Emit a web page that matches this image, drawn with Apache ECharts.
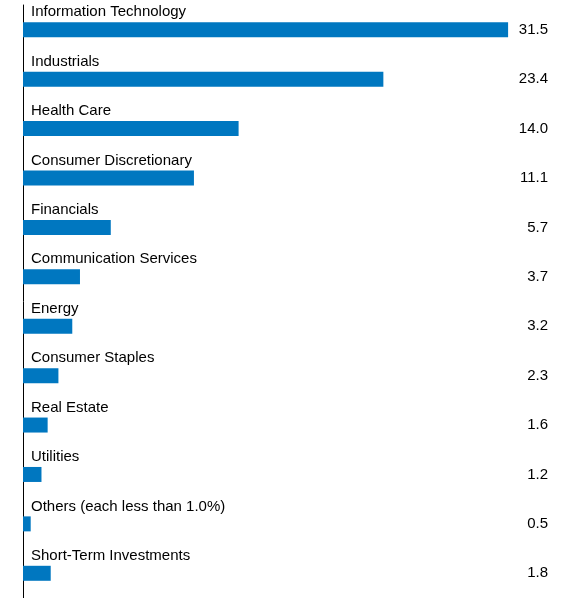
<!DOCTYPE html>
<html><head><meta charset="utf-8">
<script src="https://cdn.jsdelivr.net/npm/echarts@6/dist/echarts.min.js"></script>
<style>html,body{margin:0;padding:0;background:#fff}#c{width:573px;height:598px}</style>
</head><body><div id="c"></div>
<script>
const categories = ["Information Technology","Industrials","Health Care","Consumer Discretionary","Financials","Communication Services","Energy","Consumer Staples","Real Estate","Utilities","Others (each less than 1.0%)","Short-Term Investments"];
const values = [31.5,23.4,14.0,11.1,5.7,3.7,3.2,2.3,1.6,1.2,0.5,1.8];
const valueLabels = values.map(v => v.toFixed(1));
const chart = echarts.init(document.getElementById('c'));
const font = {fontFamily:'Liberation Sans, Arial, sans-serif', fontSize:15, color:'#000'};
chart.setOption({
  animation:false,
  grid:{left:23, top:5, width:539, height:600},
  xAxis:{type:'value', min:0, max:35, show:false},
  yAxis:[
    {type:'category', data:categories, inverse:true,
     axisLine:{show:true, lineStyle:{color:'#000', width:1}}, axisTick:{show:false},
     axisLabel:Object.assign({inside:true, margin:8, align:'left', verticalAlign:'bottom', padding:[0,0,10,0]}, font)},
    {type:'category', data:valueLabels, inverse:true, position:'right',
     axisLine:{show:false}, axisTick:{show:false},
     axisLabel:Object.assign({inside:true, margin:14, align:'right', verticalAlign:'middle', padding:[2,0,0,0]}, font)}
  ],
  series:[{type:'bar', data:values, yAxisIndex:0, barWidth:15, itemStyle:{color:'#0077c0'}, silent:true}]
});
</script></body></html>
